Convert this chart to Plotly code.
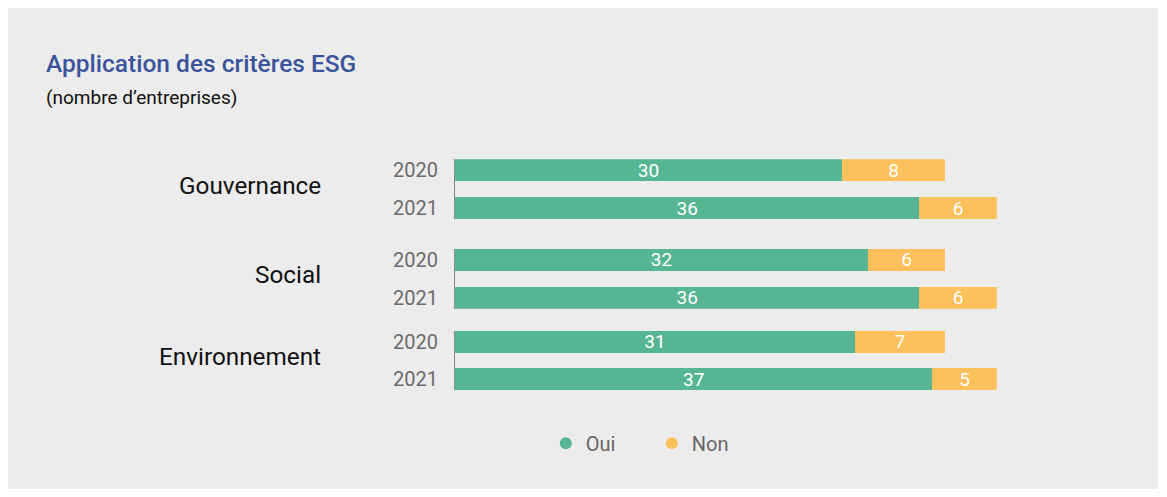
import plotly.graph_objects as go

# ---- data ----
groups = ["Gouvernance", "Social", "Environnement"]
years = ["2020", "2021"]
oui = {"Gouvernance": [30, 36], "Social": [32, 36], "Environnement": [31, 37]}
non = {"Gouvernance": [8, 6], "Social": [6, 6], "Environnement": [7, 5]}
series_names = ["Oui", "Non"]

# ---- style ----
W, H = 1150, 481
GREEN = "#56b593"
ORANGE = "#fdc15b"
BG = "#ececec"
FONT = "Roboto"

x_left, x_right = 447, 988.8
y_domains_px = [(151, 211), (241, 301), (323, 383)]

fig = go.Figure()
layout = dict(
    width=W, height=H,
    margin=dict(l=0, r=0, t=0, b=0),
    paper_bgcolor=BG, plot_bgcolor=BG,
    barmode="stack",
    bargap=0.42,
    showlegend=True,
    font=dict(family=FONT),
)

annotations = []
for i, g in enumerate(groups):
    sfx = "" if i == 0 else str(i + 1)
    xa, ya = "x" + sfx, "y" + sfx
    for name, vals, col in [("Oui", oui[g], GREEN), ("Non", non[g], ORANGE)]:
        fig.add_trace(go.Bar(
            y=years, x=vals, orientation="h", name=name,
            marker=dict(color=col, line=dict(width=0)),
            texttemplate="%{x}", textposition="inside", insidetextanchor="middle",
            textangle=0,
            textfont=dict(color="white", size=19, family=FONT),
            constraintext="none",
            showlegend=False, hoverinfo="skip",
            xaxis=xa, yaxis=ya,
        ))
    top, bot = y_domains_px[i]
    layout["xaxis" + sfx] = dict(
        domain=[x_left / W, x_right / W], range=[0, 42],
        showgrid=False, zeroline=False, showticklabels=False, showline=False,
        anchor=ya, fixedrange=True,
    )
    layout["yaxis" + sfx] = dict(
        domain=[1 - bot / H, 1 - top / H], type="category",
        range=[1.29, -0.29], showgrid=False, zeroline=False,
        showline=True, linecolor="#888888", linewidth=1,
        ticks="", ticklabelstandoff=12,
        tickfont=dict(size=20, color="#6b6b6b", family=FONT),
        anchor=xa, fixedrange=True,
    )
    annotations.append(dict(
        text=g, xref="paper", x=315 / W, xanchor="right",
        yref=ya + " domain", y=0.5, yanchor="middle", yshift=4,
        showarrow=False, font=dict(size=24.3, color="#111111", family=FONT),
    ))

# legend entries (circle markers)
for name, col in zip(series_names, [GREEN, ORANGE]):
    fig.add_trace(go.Scatter(
        x=[None], y=[None], mode="markers", name=name,
        marker=dict(symbol="circle", size=14, color=col),
        showlegend=True, xaxis="x", yaxis="y",
    ))

annotations.append(dict(
    text="Application des critères ESG", xref="paper", yref="paper",
    x=36 / W, y=1 - 55 / H, xanchor="left", yanchor="middle", showarrow=False,
    font=dict(size=24.5, color="#3a539b", family=FONT, weight=500),
))
annotations.append(dict(
    text="(nombre d’entreprises)", xref="paper", yref="paper",
    x=36 / W, y=1 - 89 / H, xanchor="left", yanchor="middle", showarrow=False,
    font=dict(size=19, color="#111111", family=FONT),
))

layout["annotations"] = annotations
layout["legend"] = dict(
    orientation="h", x=0.5598, xanchor="center", y=1 - 436 / H, yanchor="middle",
    font=dict(size=20, color="#666666", family=FONT),
    bgcolor="rgba(0,0,0,0)", entrywidth=61, itemsizing="constant",
    traceorder="normal",
)
fig.update_layout(**layout)
fig.write_html("out.html")
